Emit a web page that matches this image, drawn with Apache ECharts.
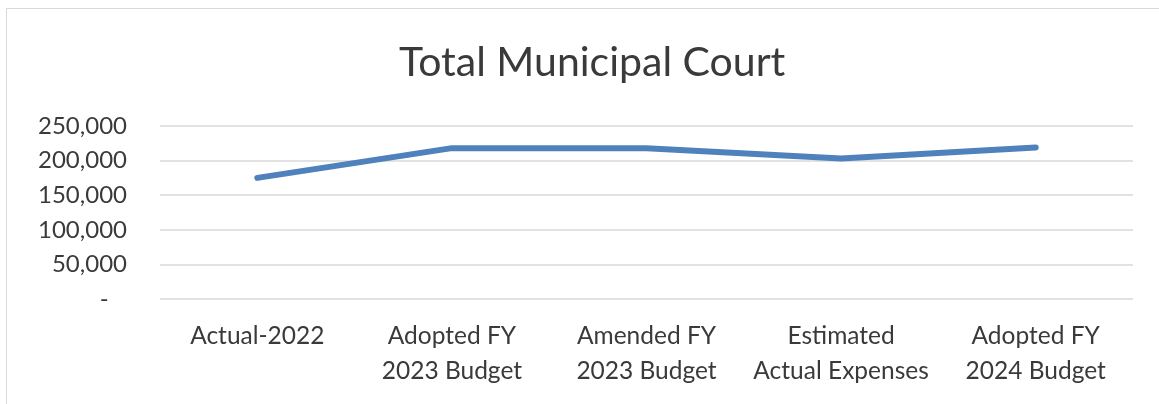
<!DOCTYPE html>
<html>
<head>
<meta charset="utf-8">
<script src="https://cdn.jsdelivr.net/npm/echarts@6/dist/echarts.min.js"></script>
<style>
  html, body { margin: 0; padding: 0; background: #fff; }
  #frame {
    position: absolute; left: 6px; top: 8px; width: 1170px; height: 420px;
    border: 1px solid #d9d9d9; box-sizing: border-box;
  }
  #chart { position: absolute; left: 0; top: 0; width: 1159px; height: 404px; }
</style>
</head>
<body>
<div id="frame"></div>
<div id="chart"></div>
<script>
// categories and values
const categories = [
  'Actual-2022',
  'Adopted FY\n2023 Budget',
  'Amended FY\n2023 Budget',
  'Estimated\nActual Expenses',
  'Adopted FY\n2024 Budget'
]
const totals = [175000, 218000, 218000, 203000, 219000]

const chart = echarts.init(document.getElementById('chart'))

const option = {
  animation: false,
  title: {
    text: 'Total Municipal Court',
    left: 394,
    top: 37,
    textStyle: {
      fontFamily: 'Lato',
      fontSize: 41,
      fontWeight: 'normal',
      color: '#3a3a3a'
    }
  },
  grid: {
    left: 160,
    right: 26,
    top: 126,
    bottom: 105,
    containLabel: false
  },
  xAxis: {
    type: 'category',
    data: categories,
    axisLine: { show: false },
    axisTick: { show: false },
    axisLabel: {
      interval: 0,
      margin: 20,
      fontFamily: 'Lato',
      fontSize: 24.5,
      lineHeight: 35,
      color: '#3a3a3a'
    }
  },
  yAxis: {
    type: 'value',
    min: 0,
    max: 250000,
    interval: 50000,
    axisLine: { show: false },
    axisTick: { show: false },
    splitLine: { lineStyle: { color: '#d9d9d9', width: 1.5 } },
    axisLabel: {
      margin: 33,
      fontFamily: 'Lato',
      fontSize: 24,
      color: '#3a3a3a',
      formatter: (v) => v === 0 ? '-   ' : v.toLocaleString('en-US')
    }
  },
  series: [
    {
      name: 'Total Municipal Court',
      type: 'line',
      data: totals,
      symbol: 'none',
      lineStyle: { color: '#4f81bd', width: 6, cap: 'round', join: 'round' },
      itemStyle: { color: '#4f81bd' }
    }
  ]
}

chart.setOption(option)
</script>
</body>
</html>
